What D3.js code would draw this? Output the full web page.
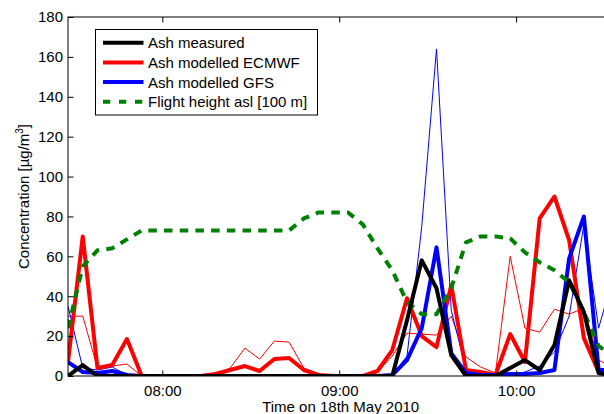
<!DOCTYPE html>
<html>
<head>
<meta charset="utf-8">
<script src="https://cdn.jsdelivr.net/npm/d3@7/dist/d3.min.js"></script>
<style>
  html, body { margin: 0; padding: 0; background: #fff; }
  svg { display: block; font-family: "Liberation Sans", Arial, Helvetica, sans-serif; }
</style>
</head>
<body>
<svg id="chart" width="604" height="414"></svg>
<script>
// ---------- data ----------
const times = ["07:28","07:33","07:38","07:43","07:48","07:53","07:58","08:03","08:08","08:13",
               "08:18","08:23","08:28","08:33","08:38","08:43","08:48","08:53","08:58","09:03",
               "09:08","09:13","09:18","09:23","09:28","09:33","09:38","09:43","09:48","09:53",
               "09:58","10:03","10:08","10:13","10:18","10:23","10:28","10:33"];
const ashMeasured   = [0,5.5,0,0,0,0,0,0,0,0, 0,0,0,0,0,0,0,0,0,0, 0,0,0,28,58,44,10.5,0,0,0, 4,8,3,15.5,48,32,1.5,0];
const ashEcmwf      = [7,70,4,5.5,18.5,0,0,0,0,0, 1,3,5,2.5,8.5,9,3,0.5,0,0, 0,2.5,13,39,20,14.5,45.5,3,2,0.5, 21,7,79,90,68,19,2,3];
const ashEcmwfThin  = [30,30,4,5,6,0,0,0,0,0, 0.5,4,14,8.5,17.5,17,4,1,0,0, 0,2,10,21.5,21,20.5,30,9.5,4.5,1.5, 60,24,22,33.5,31,34,8,4];
const ashGfs        = [7,2,1.5,2.5,0.5,0,0,0,0,0, 0,0,0,0,0,0,0,0,0,0, 0,0,0.5,8,24,64.5,11.5,1.5,0.5,0.5, 1,1,1.5,3,59,80,3,3];
const ashGfsThin    = [35,4,3,4.5,0.5,0,0,0,0,0, 0,0,0,0,0,0,0,0,0,0, 0,0,0.5,10,75,164,33,3,0.5,0, 0.5,2,5,12,30,76,24,50];
const flightHeight  = [24,55,63,64,68.5,73,73,73,73,73, 73,73,73,73,73,73,79,82,82,82, 76,64,53,37,31,31,44,67,70,70, 69,62,57,53,47,32,15,10];
const yTicks = [0,20,40,60,80,100,120,140,160,180];
const xTickLabels = ["08:00","09:00","10:00"];
const legendLabels = ["Ash measured","Ash modelled ECMWF","Ash modelled GFS","Flight height asl [100 m]"];
const xTitle = "Time on 18th May 2010";

// ---------- layout ----------
const svg = d3.select("#chart");
svg.append("rect").attr("width",604).attr("height",414).attr("fill","#fff");
const parse = d3.timeParse("%H:%M");
const tDates = times.map(parse);
const L = 68, T = 17, B = 376, R = 68 + 37 * 14.74;
const x = d3.scaleTime().domain([tDates[0], tDates[tDates.length-1]]).range([L, R]);
const y = d3.scaleLinear().domain([0,180]).range([B, T]);

const defs = svg.append("defs");
defs.append("clipPath").attr("id","plotclip")
  .append("rect").attr("x",L).attr("y",T).attr("width",R-L).attr("height",B-T);

const line = d3.line().x((d,i)=>x(tDates[i])).y(d=>y(d));
const plot = svg.append("g").attr("clip-path","url(#plotclip)");

const series = [
  {v: ashEcmwfThin, c:"#ff0000", w:1},
  {v: ashGfsThin,   c:"#0000ff", w:1},
  {v: ashEcmwf,     c:"#ff0000", w:4},
  {v: ashGfs,       c:"#0000ff", w:4},
  {v: flightHeight, c:"#008000", w:4, dash:"8.5,7.2"},
  {v: ashMeasured,  c:"#000000", w:4}
];
series.forEach(s=>{
  plot.append("path").attr("d", line(s.v)).attr("fill","none")
    .attr("stroke", s.c).attr("stroke-width", s.w)
    .attr("stroke-linejoin","round")
    .attr("stroke-dasharray", s.dash || null);
});

// ---------- axes ----------
const fs = 15;
const xTickDates = xTickLabels.map(parse);
const xb = svg.append("g").attr("transform",`translate(0,${B})`)
  .call(d3.axisBottom(x).tickValues(xTickDates).tickFormat(d3.timeFormat("%H:%M")).tickSize(-5.5).tickPadding(9));
const xt = svg.append("g").attr("transform",`translate(0,${T})`)
  .call(d3.axisTop(x).tickValues(xTickDates).tickFormat("").tickSize(-5.5));
const yl = svg.append("g").attr("transform",`translate(${L},0)`)
  .call(d3.axisLeft(y).tickValues(yTicks).tickSize(-5.5).tickPadding(5));
const yr = svg.append("g").attr("transform",`translate(${R},0)`)
  .call(d3.axisRight(y).tickValues(yTicks).tickFormat("").tickSize(-5.5));
[xb,xt,yl,yr].forEach(g=>{
  g.select(".domain").remove();
  g.selectAll("line").attr("stroke","#000").attr("stroke-width",1);
  g.selectAll("text").attr("font-size",fs).attr("fill","#000")
    .attr("font-family",'"Liberation Sans", Arial, sans-serif');
});
svg.append("rect").attr("x",L).attr("y",T).attr("width",R-L).attr("height",B-T)
  .attr("fill","none").attr("stroke","#000").attr("stroke-width",1);

svg.append("text").attr("x",(L+R)/2).attr("y",412).attr("text-anchor","middle")
  .attr("font-size",fs).text(xTitle);
const yt = svg.append("text").attr("transform",`translate(29,${(T+B)/2}) rotate(-90)`)
  .attr("text-anchor","middle").attr("font-size",fs);
yt.append("tspan").text("Concentration [µg/m");
yt.append("tspan").attr("font-size",10).attr("dy",-6).text("3");
yt.append("tspan").attr("dy",6).text("]");

// ---------- legend ----------
const lg = svg.append("g");
lg.append("rect").attr("x",95.5).attr("y",29.5).attr("width",222).attr("height",85.5)
  .attr("fill","#fff").attr("stroke","#000").attr("stroke-width",1);
const legendStyle = [
  {c:"#000000"},{c:"#ff0000"},{c:"#0000ff"},{c:"#008000", dash:"7.3,8.7"}
];
legendLabels.forEach((lab,i)=>{
  const yy = 42.7 + i*19.7;
  lg.append("line").attr("x1",103).attr("x2",143.5).attr("y1",yy).attr("y2",yy)
    .attr("stroke",legendStyle[i].c).attr("stroke-width",4)
    .attr("stroke-dasharray",legendStyle[i].dash || null);
  lg.append("text").attr("x",148).attr("y",yy+5.4).attr("font-size",fs).text(lab);
});
</script>
</body>
</html>
